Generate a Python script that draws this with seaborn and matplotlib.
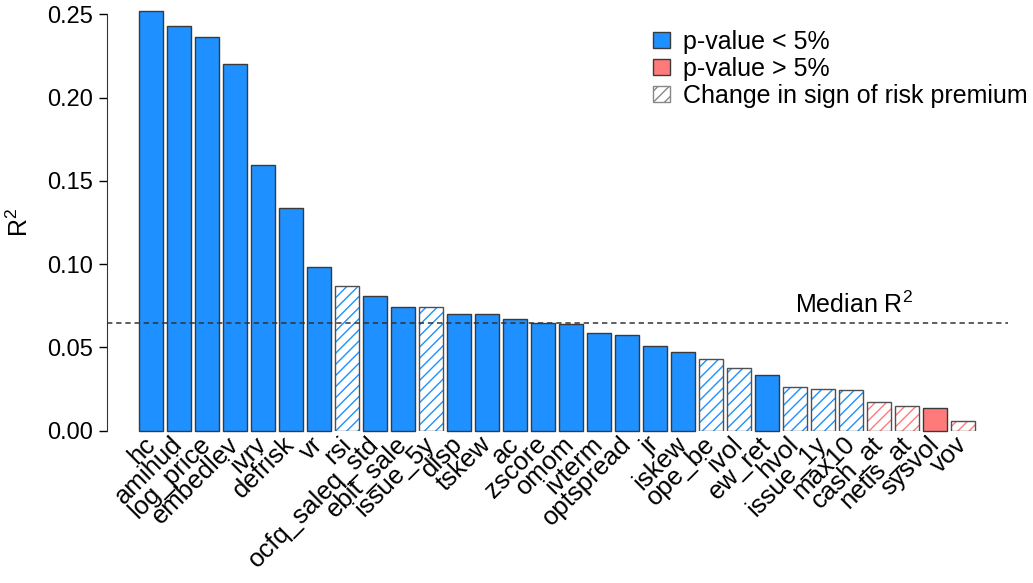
import numpy as np
import pandas as pd
import seaborn as sns
import matplotlib.pyplot as plt
from matplotlib.patches import Patch, Rectangle

sns.set_style('white')
plt.rcParams['font.family'] = ['Liberation Sans', 'DejaVu Sans']
plt.rcParams['mathtext.fontset'] = 'custom'
plt.rcParams['mathtext.rm'] = 'Liberation Sans'
plt.rcParams['mathtext.default'] = 'regular'
plt.rcParams['hatch.linewidth'] = 1.0
plt.rcParams['text.color'] = 'black'
plt.rcParams['xtick.color'] = 'black'
plt.rcParams['ytick.color'] = 'black'
plt.rcParams['axes.labelcolor'] = 'black'

# data
names = ['hc', 'amihud', 'log_price', 'embedlev', 'ivrv', 'defrisk', 'vr', 'rsi',
         'ocfq_saleq_std', 'ebit_sale', 'issue_5y', 'disp', 'tskew', 'ac', 'zscore',
         'omom', 'ivterm', 'optspread', 'jr', 'iskew', 'ope_be', 'ivol', 'ew_ret',
         'hvol', 'issue_1y', 'max10', 'cash_at', 'netis_at', 'sysvol', 'vov']
r2 = [0.2522, 0.2428, 0.2362, 0.2204, 0.1593, 0.1340, 0.0982, 0.0868,
      0.0811, 0.0742, 0.0742, 0.0701, 0.0701, 0.0669, 0.0649,
      0.0639, 0.0587, 0.0577, 0.0507, 0.0473, 0.0429, 0.0377, 0.0335,
      0.0263, 0.0252, 0.0246, 0.0174, 0.0150, 0.0135, 0.0056]
significant = [True] * 26 + [False] * 4
sign_change = [False, False, False, False, False, False, False, True,
               False, False, True, False, False, False, False,
               False, False, False, False, False, True, True, False,
               True, True, True, True, True, False, True]

blue = '#1E90FF'
red = '#FF7B7B'
edge = '#3a3a3a'

df = pd.DataFrame({'name': names, 'r2': r2})
colors = [blue if s else red for s in significant]

fig = plt.figure(figsize=(10.33, 5.83), dpi=100)
ax = fig.add_axes([0.1036, 0.2612, 0.8722, 0.7143])

sns.barplot(data=df, x='name', y='r2', hue='name', palette=colors, legend=False,
            width=0.85, saturation=1, edgecolor=edge, linewidth=1.0, ax=ax)

# hatched bars: white face, coloured hatch, dark outline on top
for p, c, h in zip(list(ax.patches), colors, sign_change):
    p.set_clip_on(False)
    if h:
        p.set_facecolor('white')
        p.set_edgecolor(c)
        p.set_hatch('///')
        p.set_linewidth(0)
        ax.add_patch(Rectangle(p.get_xy(), p.get_width(), p.get_height(),
                               fill=False, edgecolor='#505050', linewidth=1.0, zorder=p.get_zorder() + 0.1))

med = np.median(r2)
ax.axhline(med, color='#333333', linestyle=(0, (3.5, 2.5)), linewidth=1.1, zorder=5)
ax.text(25.1, med + 0.0035, 'Median R$^2$', ha='center', va='bottom', fontsize=18)

ax.set_ylim(0, 0.25)
ax.set_xlim(-1.57, 30.6)
ax.set_yticks([0, 0.05, 0.10, 0.15, 0.20, 0.25])
ax.set_yticklabels(['0.00', '0.05', '0.10', '0.15', '0.20', '0.25'])
ax.tick_params(axis='y', which='major', labelsize=17, length=6, width=1, direction='out', left=True, pad=4)
ax.tick_params(axis='x', length=0, labelsize=18.5, pad=7)
plt.setp(ax.get_xticklabels(), rotation=45, ha='right', va='center', rotation_mode='anchor')
ax.set_xlabel('')
ax.set_ylabel('R$^2$', fontsize=18, labelpad=10)

for s in ['top', 'right', 'bottom']:
    ax.spines[s].set_visible(False)
ax.spines['left'].set_color('#333333')

handles = [Patch(facecolor=blue, edgecolor=edge, label='p-value < 5%'),
           Patch(facecolor=red, edgecolor=edge, label='p-value > 5%'),
           Patch(facecolor='white', edgecolor='#888888', hatch='///', label='Change in sign of risk premium')]
leg = fig.legend(handles=handles, loc='upper left', bbox_to_anchor=(0.622, 0.966),
                 frameon=False, fontsize=18, handlelength=0.7, handleheight=0.55,
                 handletextpad=0.5, labelspacing=0.12, borderaxespad=0)

fig.savefig('out.png', dpi=100)
